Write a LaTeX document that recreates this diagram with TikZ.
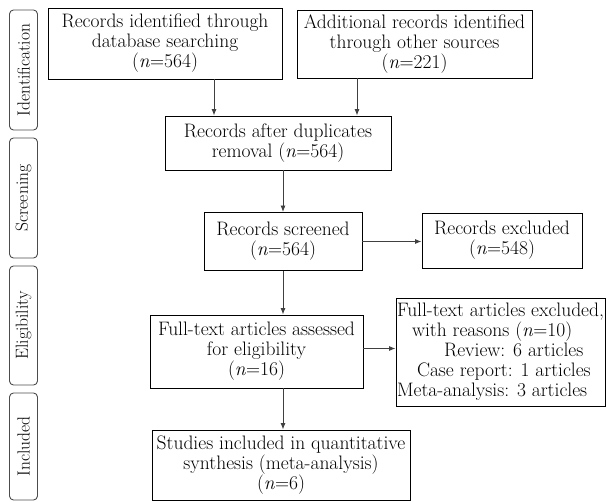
\documentclass[tikz,border=0pt]{standalone}
\usepackage{fontspec}
\usetikzlibrary{arrows.meta}

\begin{document}
\begin{tikzpicture}[x=1pt,y=-1pt,
	box/.style={draw,line width=0.9pt,align=center,inner sep=1pt,font=\fontsize{19.5}{20}\selectfont},
	stage/.style={draw=black!70,line width=0.9pt,rounded corners=4pt,minimum height=28pt,rotate=90,inner sep=1pt,font=\fontsize{17.5}{20}\selectfont},
	arr/.style={-{Latex[length=6.5pt,width=5pt]},line width=0.9pt,draw=black!75}]
	\useasboundingbox (0,0) rectangle (607,502);
	% stages on the left
	\node[stage,minimum width=120pt] (ident) at (23.5,70) {Identification};
	\node[stage,minimum width=120pt] (screen) at (23.5,198) {Screening};
	\node[stage,minimum width=119pt] (elig) at (23.5,325.5) {Eligibility};
	\node[stage,minimum width=107pt] (incl) at (23.5,446.5) {Included};
	% flow boxes
	\node[box,minimum width=234pt,minimum height=71pt] (database) at (165,43.5) {Records identified through\\database searching\\(\textit{n}=564)};
	\node[box,minimum width=235pt,minimum height=68pt] (other) at (414.5,44) {Additional records identified\\through other sources\\(\textit{n}=221)};
	\node[box,minimum width=226pt,minimum height=54pt] (dupl) at (278,143) {Records after duplicates\\removal (\textit{n}=564)};
	\node[box,minimum width=158pt,minimum height=58pt] (screened) at (283,241.5) {Records screened\\(\textit{n}=564)};
	\node[box,minimum width=160pt,minimum height=55pt] (excl) at (502,240.5) {Records excluded\\(\textit{n}=548)};
	\node[box,minimum width=213pt,minimum height=73pt] (assessed) at (256.5,351.5) {Full-text articles assessed\\for eligibility\\(\textit{n}=16)};
	\node[box,align=left,minimum width=209pt,minimum height=108pt,inner sep=1pt] (reasons) at (500.5,352) {Full-text articles excluded,\\\hspace*{15pt}with reasons (\textit{n}=10)\\\hspace*{47pt}Review: 6 articles\\\hspace*{20pt}Case report: 1 articles\\Meta-analysis: 3 articles};
	\node[box,minimum width=258pt,minimum height=70pt] (incstud) at (281,465) {Studies included in quantitative\\synthesis (meta-analysis)\\(\textit{n}=6)};
	% arrows
	\draw[arr] ([xshift=49pt]database.south) -- ([xshift=49pt]database.south |- dupl.north);
	\draw[arr] ([xshift=-57.5pt]other.south) -- ([xshift=-57.5pt]other.south |- dupl.north);
	\draw[arr] (dupl.south -| screened.north) -- (screened.north);
	\draw[arr] (screened.east) -- (screened.east -| excl.west);
	\draw[arr] (screened.south) -- (screened.south |- assessed.north);
	\draw[arr] ([yshift=3pt]assessed.east) -- ([yshift=3pt]assessed.east -| reasons.west);
	\draw[arr] (assessed.south -| screened.south) -- (incstud.north -| screened.south);
\end{tikzpicture}
\end{document}
